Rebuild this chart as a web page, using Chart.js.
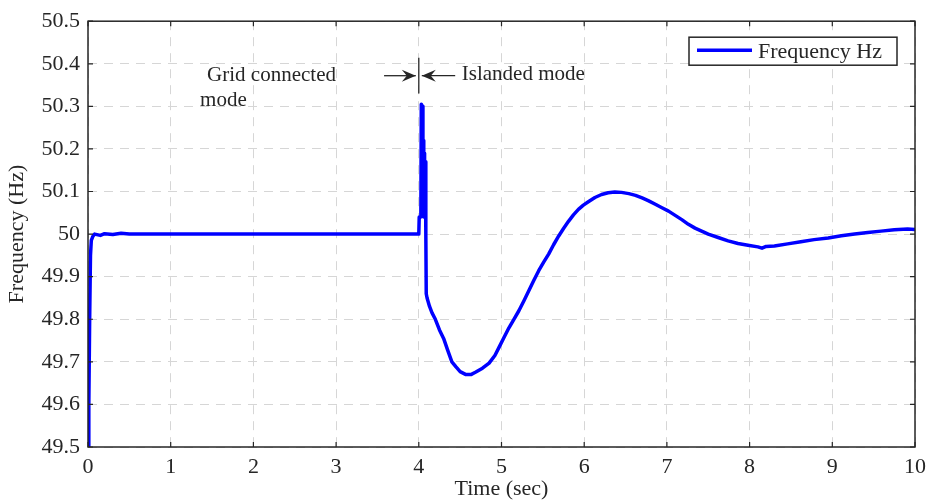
<!DOCTYPE html>
<html>
<head>
<meta charset="utf-8">
<script src="https://cdn.jsdelivr.net/npm/chart.js@4/dist/chart.umd.min.js"></script>
<style>
  html, body { margin: 0; padding: 0; background: #fff; }
  #wrap { width: 933px; height: 502px; }
</style>
</head>
<body>
<div id="wrap"><canvas id="freq-chart" width="933" height="502"></canvas></div>
<script>
const timeSec = [
    0.000, 0.010, 0.020, 0.030, 0.040, 0.060, 0.080, 0.150, 0.200, 0.300, 0.400, 0.500,
    1.0, 2.0, 3.0, 3.980, 4.000, 4.005, 4.025, 4.030, 4.045, 4.050, 4.055, 4.060,
    4.065, 4.070, 4.080, 4.085, 4.090, 4.100, 4.130, 4.160, 4.200, 4.250, 4.300, 4.350,
    4.400, 4.450, 4.500, 4.570, 4.630, 4.690, 4.770, 4.850, 4.920, 4.970, 5.030, 5.090,
    5.150, 5.210, 5.270, 5.330, 5.390, 5.450, 5.510, 5.570, 5.630, 5.690, 5.750, 5.810,
    5.870, 5.930, 5.990, 6.050, 6.130, 6.210, 6.290, 6.370, 6.450, 6.540, 6.620, 6.700,
    6.780, 6.860, 6.940, 7.020, 7.100, 7.180, 7.260, 7.340, 7.420, 7.500, 7.620, 7.740,
    7.860, 7.980, 8.100, 8.150, 8.200, 8.300, 8.460, 8.620, 8.780, 8.950, 9.110, 9.270,
    9.430, 9.590, 9.750, 9.910, 10.0
];
const freqHz = [
    49.500, 49.600, 49.800, 49.950, 49.985, 49.995, 50.000, 49.997, 50.001, 49.999, 50.002, 50.000,
    50.0, 50.0, 50.0, 50.000, 50.000, 50.040, 50.040, 50.305, 50.300, 50.120, 50.220, 50.040,
    50.190, 50.050, 50.170, 50.000, 49.860, 49.850, 49.830, 49.815, 49.800, 49.775, 49.755, 49.727,
    49.700, 49.688, 49.677, 49.670, 49.670, 49.676, 49.685, 49.697, 49.715, 49.734, 49.757, 49.780,
    49.800, 49.820, 49.843, 49.867, 49.891, 49.914, 49.934, 49.953, 49.975, 49.995, 50.013, 50.030,
    50.045, 50.058, 50.068, 50.076, 50.086, 50.093, 50.097, 50.099, 50.098, 50.095, 50.091, 50.085,
    50.078, 50.070, 50.062, 50.054, 50.044, 50.034, 50.023, 50.014, 50.007, 50.000, 49.992, 49.984,
    49.978, 49.974, 49.970, 49.967, 49.971, 49.972, 49.977, 49.982, 49.987, 49.991, 49.996, 50.000,
    50.004, 50.007, 50.010, 50.012, 50.011
];
const xTicks = [0, 1, 2, 3, 4, 5, 6, 7, 8, 9, 10];
const yTicks = [49.5, 49.6, 49.7, 49.8, 49.9, 50.0, 50.1, 50.2, 50.3, 50.4, 50.5];
const seriesLabel = 'Frequency Hz';

const SERIF = '"Liberation Serif", "DejaVu Serif", serif';
const INK = '#262626';

// box, inward ticks, legend and the mode annotation
const matlabLook = {
    id: 'matlabLook',
    afterDraw(chart) {
        const ctx = chart.ctx;
        const area = chart.chartArea;
        const xs = chart.scales.x;
        const ys = chart.scales.y;
        ctx.save();

        // axes box
        ctx.strokeStyle = INK;
        ctx.lineWidth = 1.5;
        ctx.strokeRect(area.left, area.top, area.right - area.left, area.bottom - area.top);

        // inward tick marks
        ctx.lineWidth = 1.2;
        const tl = 5;
        ctx.beginPath();
        xTicks.forEach(v => {
            const px = xs.getPixelForValue(v);
            ctx.moveTo(px, area.bottom); ctx.lineTo(px, area.bottom - tl);
            ctx.moveTo(px, area.top); ctx.lineTo(px, area.top + tl);
        });
        yTicks.forEach(v => {
            const py = ys.getPixelForValue(v);
            ctx.moveTo(area.left, py); ctx.lineTo(area.left + tl, py);
            ctx.moveTo(area.right, py); ctx.lineTo(area.right - tl, py);
        });
        ctx.stroke();

        // legend
        const lx = area.right - 226, ly = area.top + 16, lw = 208, lh = 28;
        ctx.fillStyle = '#fff';
        ctx.fillRect(lx, ly, lw, lh);
        ctx.strokeStyle = INK;
        ctx.lineWidth = 1.5;
        ctx.strokeRect(lx, ly, lw, lh);
        ctx.strokeStyle = chart.data.datasets[0].borderColor;
        ctx.lineWidth = 3.5;
        ctx.beginPath();
        ctx.moveTo(lx + 8, ly + lh / 2 - 1);
        ctx.lineTo(lx + 63, ly + lh / 2 - 1);
        ctx.stroke();
        ctx.fillStyle = INK;
        ctx.font = '22px ' + SERIF;
        ctx.textBaseline = 'middle';
        ctx.textAlign = 'left';
        ctx.fillText(chart.data.datasets[0].label, lx + 69, ly + lh / 2 + 1);

        // annotation: switch from grid connected to islanded mode
        const xSwitch = xs.getPixelForValue(4.0);
        const yArrow = ys.getPixelForValue(50.372);
        ctx.strokeStyle = INK;
        ctx.lineWidth = 1.3;
        ctx.beginPath();
        ctx.moveTo(xSwitch, ys.getPixelForValue(50.414));
        ctx.lineTo(xSwitch, ys.getPixelForValue(50.33));
        ctx.stroke();

        function arrow(fromX, toX) {
            const dir = Math.sign(toX - fromX);
            ctx.beginPath();
            ctx.moveTo(fromX, yArrow);
            ctx.lineTo(toX, yArrow);
            ctx.stroke();
            ctx.beginPath();
            ctx.moveTo(toX, yArrow);
            ctx.lineTo(toX - dir * 14, yArrow - 6);
            ctx.lineTo(toX - dir * 9, yArrow);
            ctx.lineTo(toX - dir * 14, yArrow + 6);
            ctx.closePath();
            ctx.fillStyle = INK;
            ctx.fill();
        }
        arrow(xs.getPixelForValue(3.58), xSwitch - 3);
        arrow(xs.getPixelForValue(4.44), xSwitch + 3);

        ctx.fillStyle = INK;
        ctx.font = '21px ' + SERIF;
        ctx.textAlign = 'left';
        ctx.fillText('Grid connected', xs.getPixelForValue(1.44), ys.getPixelForValue(50.372));
        ctx.fillText('mode', xs.getPixelForValue(1.355), ys.getPixelForValue(50.313));
        ctx.fillText('Islanded mode', xs.getPixelForValue(4.52), ys.getPixelForValue(50.374));

        ctx.restore();
    }
};

const ctx = document.getElementById('freq-chart').getContext('2d');
new Chart(ctx, {
    type: 'line',
    data: {
        datasets: [{
            label: seriesLabel,
            data: timeSec.map((t, i) => ({ x: t, y: freqHz[i] })),
            borderColor: '#0000ff',
            backgroundColor: '#0000ff',
            borderWidth: 3.5,
            borderJoinStyle: 'round',
            borderCapStyle: 'round',
            pointRadius: 0,
            tension: 0,
            fill: false
        }]
    },
    options: {
        responsive: false,
        animation: false,
        devicePixelRatio: 1,
        layout: { padding: { top: 19, right: 12, left: 0, bottom: 0 } },
        plugins: {
            legend: { display: false },
            tooltip: { enabled: false }
        },
        scales: {
            x: {
                type: 'linear',
                min: 0,
                max: 10,
                afterBuildTicks: scale => { scale.ticks = xTicks.map(v => ({ value: v })); },
                afterFit: scale => { scale.height = 55; },
                grid: { color: '#d6d6d6', lineWidth: 1, drawTicks: false },
                border: { display: false, dash: [9, 7] },
                ticks: {
                    color: INK,
                    padding: 7,
                    maxRotation: 0,
                    font: { family: SERIF, size: 22 },
                    callback: v => String(v)
                },
                title: {
                    display: true,
                    text: 'Time (sec)',
                    color: INK,
                    font: { family: SERIF, size: 22 },
                    padding: { top: 0, bottom: 0 }
                }
            },
            y: {
                min: 49.5,
                max: 50.5,
                afterBuildTicks: scale => { scale.ticks = yTicks.map(v => ({ value: v })); },
                afterFit: scale => { scale.width = 88; },
                grid: { color: '#d6d6d6', lineWidth: 1, drawTicks: false },
                border: { display: false, dash: [9, 7] },
                ticks: {
                    color: INK,
                    padding: 8,
                    font: { family: SERIF, size: 22 },
                    callback: v => String(Number(Number(v).toFixed(1)))
                },
                title: {
                    display: true,
                    text: 'Frequency (Hz)',
                    color: INK,
                    font: { family: SERIF, size: 22 },
                    padding: { top: 4, bottom: 0 }
                }
            }
        }
    },
    plugins: [matlabLook]
});
</script>
</body>
</html>
